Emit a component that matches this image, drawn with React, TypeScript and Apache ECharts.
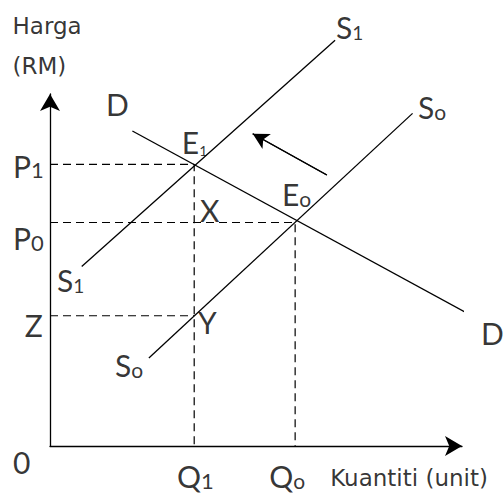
import React, { useEffect, useRef } from "react";
import * as echarts from "echarts";

// Curves (data units: quantity 0..100, price 0..100)
const demandD: number[][] = [[20, 89.5], [105, 35.3]];
const supplyS0: number[][] = [[24, 25], [88, 94.5]];
const supplyS1: number[][] = [[7.7, 51], [69.2, 115.3]];
const shiftArrow: number[][] = [[67.2, 77], [49.2, 88.7]];

// Guide levels
const priceP1 = 80;
const priceP0 = 63.5;
const priceZ = 37;
const qtyQ1 = 35;
const qtyQ0 = 59.5;

// Labels: [text (rich), x, y]
const labels: [string, number, number][] = [
  ["{a|Harga}", -9.1, 119.2],
  ["{a|(RM)}", -9.1, 108.0],
  ["{m|D}", 13.6, 97.8],
  ["{m|E}{t|1}", 32.0, 86.8],
  ["{m|P}{d|1}", -9.0, 80.2],
  ["{m|X}", 36.4, 67.7],
  ["{m|P}{d|0}", -9.0, 59.6],
  ["{m|S}{s|1}", 69.4, 119.6],
  ["{m|S}{o|o}", 89.3, 97.0],
  ["{m|E}{o|o}", 56.3, 72.3],
  ["{m|S}{s|1}", 1.7, 47.8],
  ["{m|Z}", -6.1, 35.0],
  ["{m|Y}", 35.9, 35.9],
  ["{m|D}", 104.6, 32.8],
  ["{m|S}{o|o}", 15.8, 23.7],
  ["{m|0}", -9.0, -3.9],
  ["{m|Q}{d|1}", 30.8, -8.0],
  ["{m|Q}{o|o}", 53.2, -8.0],
  ["{a|Kuantiti (unit)}", 68.0, -9.1],
];

const LABEL_FONT = "Lato, 'Open Sans', sans-serif";
const AXIS_FONT = "'DejaVu Sans', sans-serif";

export default function App() {
  const ref = useRef<HTMLDivElement>(null);
  useEffect(() => {
    if (!ref.current) return;
    const chart = echarts.init(ref.current, null, { renderer: "svg" });
    const solid = { color: "#000", width: 1.3, type: "solid" as const };
    const dashed = { color: "#000", width: 1.2, type: [8, 5] as number[] };
    const lineSeries = (name: string, data: number[][], style: any) => ({
      name,
      type: "line",
      data,
      symbol: "none",
      clip: false,
      silent: true,
      lineStyle: style,
      z: 2,
    });
    const base = { fontFamily: LABEL_FONT, color: "#000", verticalAlign: "bottom" };
    chart.setOption({
      animation: false,
      backgroundColor: "#fff",
      grid: { left: 50, top: 94, width: 412, height: 352, containLabel: false },
      xAxis: {
        type: "value",
        min: 0,
        max: 100,
        axisLine: {
          show: true,
          symbol: ["none", "arrow"],
          symbolSize: [15, 17],
          lineStyle: { color: "#000", width: 1.3 },
        },
        axisTick: { show: false },
        axisLabel: { show: false },
        splitLine: { show: false },
      },
      yAxis: {
        type: "value",
        min: 0,
        max: 100,
        axisLine: {
          show: true,
          symbol: ["none", "arrow"],
          symbolSize: [15, 17],
          lineStyle: { color: "#000", width: 1.3 },
        },
        axisTick: { show: false },
        axisLabel: { show: false },
        splitLine: { show: false },
      },
      series: [
        lineSeries("D", demandD, solid),
        lineSeries("S0", supplyS0, solid),
        lineSeries("S1", supplyS1, solid),
        lineSeries("P1", [[0, priceP1], [qtyQ1, priceP1], [qtyQ1, 0]], dashed),
        lineSeries("P0", [[0, priceP0], [qtyQ0, priceP0], [qtyQ0, 0]], dashed),
        lineSeries("Z", [[0, priceZ], [qtyQ1, priceZ]], dashed),
        {
          ...lineSeries("shift", shiftArrow, solid),
          markLine: {
            silent: true,
            symbol: ["none", "arrow"],
            symbolSize: [13, 16],
            label: { show: false },
            lineStyle: solid,
            data: [[{ coord: shiftArrow[0] }, { coord: shiftArrow[1] }]],
          },
        },
        {
          name: "labels",
          type: "scatter",
          symbolSize: 0,
          clip: false,
          silent: true,
          data: labels.map((l) => [l[1], l[2], l[0]]),
          label: {
            show: true,
            position: [0, 0],
            align: "left",
            verticalAlign: "middle",
            formatter: (p: any) => p.value[2],
            rich: {
              m: { ...base, fontSize: 30, lineHeight: 34 },
              d: { ...base, fontSize: 22, lineHeight: 27.8 },
              s: { ...base, fontSize: 19, lineHeight: 19.5 },
              t: { ...base, fontSize: 14, lineHeight: 18.6 },
              o: { ...base, fontSize: 21, lineHeight: 19 },
              a: { fontFamily: AXIS_FONT, fontSize: 23, color: "#000", verticalAlign: "middle", lineHeight: 28 },
            },
          },
        },
      ],
    });
    return () => chart.dispose();
  }, []);
  return (
    <div
      ref={ref}
      style={{ position: "fixed", left: 0, top: 0, width: 504, height: 494, background: "#fff" }}
    />
  );
}
